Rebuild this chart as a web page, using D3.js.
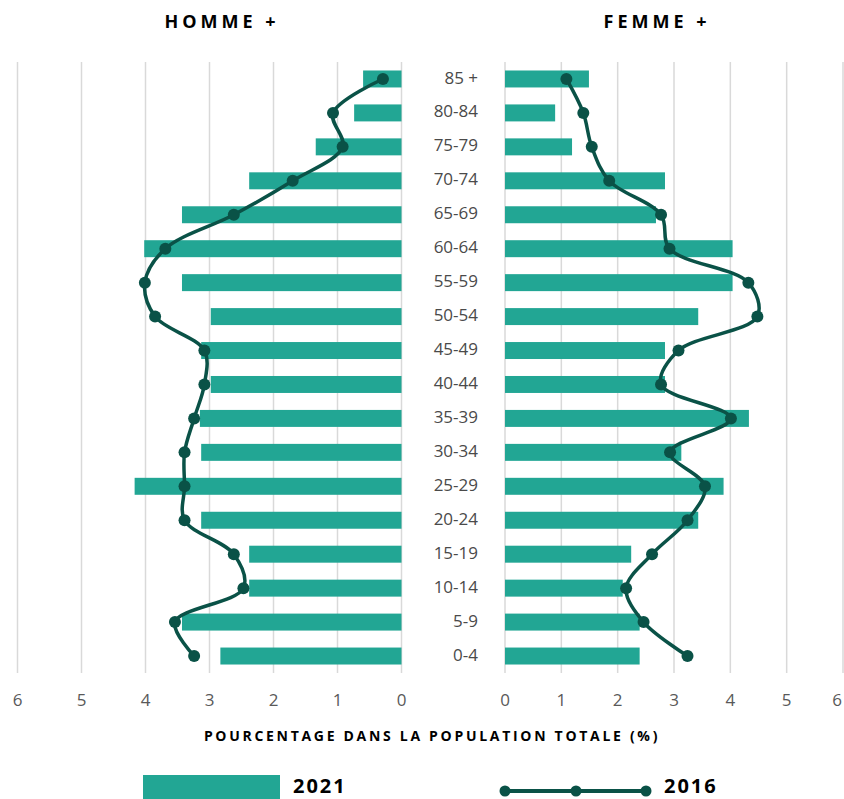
<!DOCTYPE html>
<html>
<head>
<meta charset="utf-8">
<script src="https://cdn.jsdelivr.net/npm/d3@7"></script>
<style>
  body { margin: 0; background: #fff; }
  text { font-family: "Open Sans", "Noto Sans", sans-serif; }
</style>
</head>
<body>
<div id="chart"></div>
<script>
// age groups, top to bottom
var ageGroups = ["85 +","80-84","75-79","70-74","65-69","60-64","55-59","50-54","45-49","40-44","35-39","30-34","25-29","20-24","15-19","10-14","5-9","0-4"]
var men2021 = [0.60,0.74,1.34,2.38,3.43,4.02,3.43,2.98,3.13,2.98,3.15,3.13,4.17,3.13,2.38,2.38,3.43,2.83]
var men2016 = [0.29,1.07,0.92,1.70,2.62,3.69,4.01,3.85,3.08,3.08,3.24,3.39,3.39,3.39,2.62,2.47,3.54,3.24]
var women2021 = [1.49,0.89,1.19,2.84,2.68,4.04,4.04,3.43,2.84,2.84,4.33,3.13,3.88,3.43,2.24,2.09,2.39,2.39]
var women2016 = [1.09,1.39,1.54,1.85,2.77,2.92,4.32,4.48,3.08,2.77,4.01,2.93,3.55,3.24,2.61,2.15,2.46,3.24]
var tickValues = [0,1,2,3,4,5,6]

var barColor = "#22a694", lineColor = "#0a5247"

var svg = d3.select("#chart").append("svg")
  .attr("width", 844)
  .attr("height", 799)

var y = d3.scaleBand().domain(ageGroups).range([62, 673]).paddingInner(0.5).paddingOuter(0.25)
var xL = d3.scaleLinear().domain([0, 6]).range([401.5, 17.5])
var xR = d3.scaleLinear().domain([0, 6]).range([505, 843])

function panel(x, bars, line, isLeft) {
  var g = svg.append("g")

  g.selectAll(".grid").data(tickValues)
    .enter().append("line")
      .attr("x1", d => x(d)).attr("x2", d => x(d))
      .attr("y1", 62).attr("y2", 673)
      .attr("stroke", "#d9d9d9").attr("stroke-width", 1.5)

  g.selectAll(".bar").data(bars)
    .enter().append("rect")
      .attr("x", d => isLeft ? x(d) : x(0))
      .attr("width", d => Math.abs(x(d) - x(0)))
      .attr("y", (d, i) => y(ageGroups[i]))
      .attr("height", y.bandwidth())
      .attr("fill", barColor)

  var pts = line.map((d, i) => [x(d), y(ageGroups[i]) + y.bandwidth() / 2])
  g.append("path")
    .attr("d", d3.line().curve(d3.curveCatmullRom.alpha(0.5))(pts))
    .attr("fill", "none").attr("stroke", lineColor).attr("stroke-width", 3.5)

  g.selectAll(".pt").data(pts)
    .enter().append("circle")
      .attr("cx", d => d[0]).attr("cy", d => d[1])
      .attr("r", 6).attr("fill", lineColor)

  g.selectAll(".tick").data(tickValues)
    .enter().append("text")
      .attr("x", d => Math.min(x(d), 837)).attr("y", 701)
      .attr("text-anchor", "middle").attr("dominant-baseline", "middle")
      .attr("font-size", 17).attr("fill", "#595959")
      .text(d => d)
}

panel(xL, men2021, men2016, true)
panel(xR, women2021, women2016, false)

// age labels
svg.selectAll(".age").data(ageGroups)
  .enter().append("text")
    .attr("x", 478)
    .attr("y", d => y(d) + y.bandwidth() / 2)
    .attr("text-anchor", "end").attr("dominant-baseline", "middle")
    .attr("font-size", 17).attr("fill", "#4a4a4a")
    .text(d => d)

// headers
function title(txt, cx, cy, size, spacing) {
  svg.append("text")
    .attr("x", cx).attr("y", cy)
    .attr("text-anchor", "middle").attr("dominant-baseline", "middle")
    .attr("font-size", size).attr("font-weight", "bold")
    .attr("letter-spacing", spacing).attr("fill", "#000")
    .text(txt)
}
title("HOMME +", 222, 23, 18, 4)
title("FEMME +", 657, 23, 18, 4)
title("POURCENTAGE DANS LA POPULATION TOTALE (%)", 432, 737, 14, 2.7)

// legend
svg.append("rect").attr("x", 143).attr("y", 775).attr("width", 137).attr("height", 30).attr("fill", barColor)
svg.append("text").attr("x", 293).attr("y", 788).attr("dominant-baseline", "middle")
  .attr("font-size", 20).attr("font-weight", "bold").attr("letter-spacing", 2).text("2021")
svg.append("line").attr("x1", 505).attr("x2", 646).attr("y1", 791).attr("y2", 791)
  .attr("stroke", lineColor).attr("stroke-width", 4)
svg.selectAll(".lgpt").data([505, 576, 646])
  .enter().append("circle")
    .attr("cx", d => d).attr("cy", 791).attr("r", 5.5).attr("fill", lineColor)
svg.append("text").attr("x", 664).attr("y", 788).attr("dominant-baseline", "middle")
  .attr("font-size", 20).attr("font-weight", "bold").attr("letter-spacing", 2).text("2016")
</script>
</body>
</html>
